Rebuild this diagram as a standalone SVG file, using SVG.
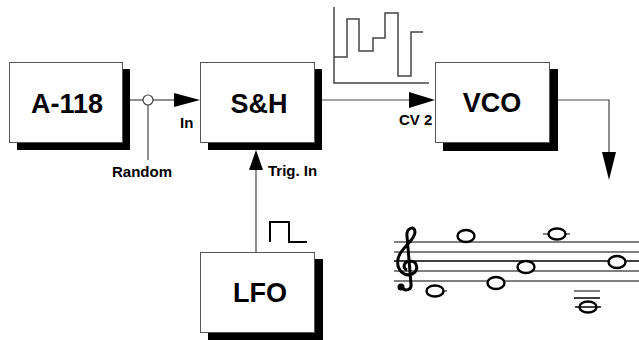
<svg xmlns="http://www.w3.org/2000/svg" width="639" height="340" viewBox="0 0 639 340">
<style>
.box{fill:#fff;stroke:#555;stroke-width:1}
.sh{fill:#000}
.big{font-family:"Liberation Sans",Arial,sans-serif;font-weight:bold;font-size:27px;text-anchor:middle;fill:#000}
.lbl{font-family:"Liberation Sans",Arial,sans-serif;font-weight:bold;font-size:15px;fill:#000}
.ln{stroke:#444;stroke-width:1.2;fill:none}
.ah{fill:#000}
.wave{stroke:#444;stroke-width:1.5;fill:none}
.staff{stroke:#555;stroke-width:1.5}
.note{fill:#fff;stroke:#000;stroke-width:2.4}
</style>
<rect width="639" height="340" fill="#fff"/>
<g id="a118">
<rect class="sh" x="17" y="69" width="113" height="81"/>
<rect class="box" x="9.5" y="62.5" width="113" height="80"/>
<text class="big" x="67" y="113">A-118</text>
</g>
<g id="sh">
<rect class="sh" x="208" y="69" width="114" height="81"/>
<rect class="box" x="200.5" y="62.5" width="114" height="80"/>
<text class="big" x="259" y="113">S&amp;H</text>
</g>
<g id="vco">
<rect class="sh" x="443" y="69" width="115" height="82"/>
<rect class="box" x="435.5" y="62.5" width="114" height="80"/>
<text class="big" x="492" y="112">VCO</text>
</g>
<g id="lfo">
<rect class="sh" x="208" y="259" width="115" height="81"/>
<rect class="box" x="200.5" y="252.5" width="114" height="80"/>
<text class="big" x="260" y="302">LFO</text>
</g>
<g id="connectors">
<line class="ln" x1="130" y1="100" x2="143" y2="100"/>
<circle cx="148" cy="100" r="5" fill="#fff" stroke="#444" stroke-width="1.2"/>
<line class="ln" x1="153" y1="100" x2="176" y2="100"/>
<line class="ln" x1="148" y1="105" x2="148" y2="160"/>
<polygon class="ah" points="174,93 200,100 174,107"/>
<line class="ln" x1="256" y1="252" x2="256" y2="168"/>
<polygon class="ah" points="249,170 256,150 263,170"/>
<line class="ln" x1="322" y1="100" x2="411" y2="100"/>
<polygon class="ah" points="409,92 435,100 409,108"/>
<polyline class="ln" points="558,100 609,100 609,154"/>
<polygon class="ah" points="602,152 616,152 609,180"/>
</g>
<g id="labels">
<text class="lbl" x="180" y="128">In</text>
<text class="lbl" x="112" y="177">Random</text>
<text class="lbl" x="268" y="176">Trig. In</text>
<text class="lbl" x="399" y="125">CV 2</text>
</g>
<g id="stepwave">
<polyline class="wave" points="334,7 334,83 429,83"/>
<path class="wave" d="M334,57 H347 V19 H359 V51 H373 V38 H385 V13 H398 V76 H411 V32 H423"/>
</g>
<g id="pulse">
<path d="M270,242 V222 H289 V242 H307" fill="none" stroke="#000" stroke-width="2"/>
</g>
<g id="score">
<line class="staff" x1="394" y1="242" x2="639" y2="242"/>
<line class="staff" x1="394" y1="252" x2="639" y2="252"/>
<line class="staff" x1="394" y1="261" x2="639" y2="261" style="stroke:#000"/>
<line class="staff" x1="394" y1="271" x2="639" y2="271"/>
<line class="staff" x1="394" y1="281" x2="639" y2="281"/>
<path d="M401,287 C405,292 412,290 411,284 L407,236 C406,228 415,225 415,232 C415,241 400,248 398,259 C396,271 405,277 412,274 C419,271 418,261 410,261 C404,261 402,268 407,270" fill="none" stroke="#000" stroke-width="3"/>
<circle cx="401" cy="287" r="3.5" fill="#000"/>
<line class="staff" x1="427" y1="291" x2="447" y2="291"/>
<ellipse class="note" cx="435" cy="291" rx="8.5" ry="5.5"/>
<ellipse class="note" cx="466" cy="236" rx="8.5" ry="6"/>
<ellipse class="note" cx="496" cy="283" rx="8.5" ry="6"/>
<ellipse class="note" cx="526" cy="267" rx="8.5" ry="6"/>
<line class="staff" x1="543" y1="234" x2="570" y2="234"/>
<ellipse class="note" cx="557" cy="234" rx="8.5" ry="5.5"/>
<line class="staff" x1="574" y1="291" x2="600" y2="291"/>
<line class="staff" x1="574" y1="298" x2="600" y2="298" style="stroke:#000"/>
<line class="staff" x1="575" y1="307" x2="601" y2="307" style="stroke:#000"/>
<ellipse class="note" cx="588" cy="307" rx="8.5" ry="5.5" style="fill:none"/>
<ellipse class="note" cx="617" cy="262" rx="8.5" ry="6"/>
</g>
</svg>
